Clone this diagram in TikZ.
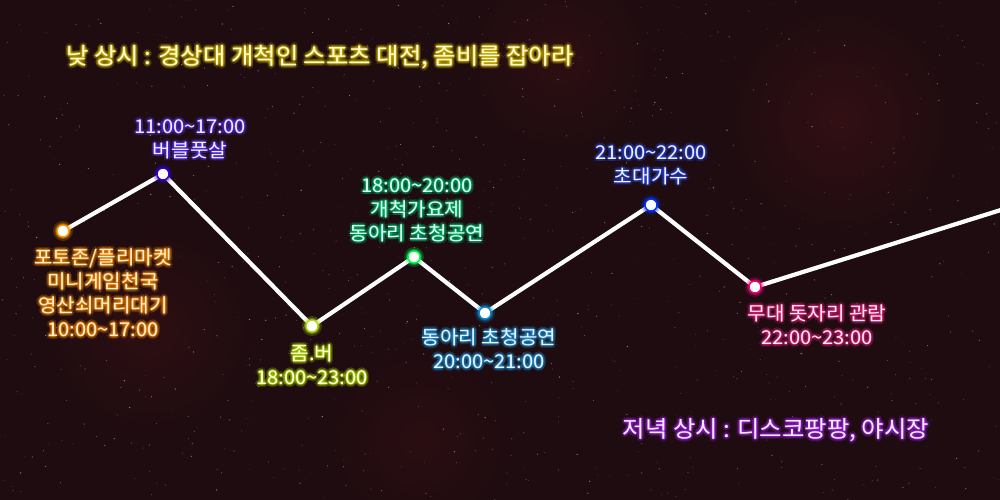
\documentclass[tikz,border=0pt]{standalone}
\usepackage{fontspec}
\newfontfamily\kr{Noto Sans CJK KR}[FakeStretch=1.06]
\usetikzlibrary{calc}
\definecolor{bg}{RGB}{30,12,16}
\tikzset{
  lbl/.style={align=center, inner sep=0pt, font=\kr\fontsize{19}{24}\selectfont},
  ttl/.style={align=center, inner sep=0pt, font=\kr\fontsize{23}{26}\selectfont},
  pathline/.style={draw=white, line width=4.2pt, line join=miter},
}
% #1 name, #2 style, #3 position, #4 glow, #5 text colour, #6 text
\newcommand\glowlabel[6]{%
  \foreach \a [count=\k] in {0,45,...,315}{%
    \node[#2, text=#4, text opacity=0.2] (#1-ga\k) at ($(#3)+(\a:2.8pt)$) {#6};
    \node[#2, text=#4, text opacity=0.3] (#1-gb\k) at ($(#3)+(\a:1.1pt)$) {#6};
  }
  \node[#2, text=#5] (#1) at (#3) {#6};
}
\newcommand\glowdot[3]{% name, position, colour
  \fill[#3, opacity=0.22] (#2) circle (10pt);
  \fill[#3, opacity=0.4] (#2) circle (8pt);
  \node[circle, fill=white, draw=#3, line width=1.4pt, minimum size=12pt, inner sep=0pt] (#1) at (#2) {};
}
\begin{document}
\begin{tikzpicture}[x=1pt,y=-1pt]
\useasboundingbox (0,0) rectangle (1000,500);
\begin{scope}
\clip (0,0) rectangle (1000,500);
\fill[bg] (0,0) rectangle (1000,500);
% faint nebula
\shade[inner color={rgb,255:red,50;green,15;blue,19}, outer color=bg] (840,120) circle (120);
\shade[inner color={rgb,255:red,45;green,14;blue,18}, outer color=bg] (150,330) circle (110);
\shade[inner color={rgb,255:red,45;green,14;blue,18}, outer color=bg] (560,60) circle (100);
\shade[inner color={rgb,255:red,42;green,13;blue,17}, outer color=bg] (420,440) circle (100);
% stars
\pgfmathsetseed{7}
\foreach \i in {1,...,900}{%
  \pgfmathsetmacro\sx{rnd*1000}%
  \pgfmathsetmacro\sy{rnd*500}%
  \pgfmathsetmacro\so{0.12+rnd*0.4}%
  \pgfmathsetmacro\sr{0.3+rnd*0.45}%
  \fill[white, opacity=\so] (\sx,\sy) circle (\sr pt);
}
% path
\coordinate (c1) at (63,231);
\coordinate (c2) at (163,174);
\coordinate (c3) at (312,326);
\coordinate (c4) at (414,257);
\coordinate (c5) at (485,313);
\coordinate (c6) at (651,205);
\coordinate (c7) at (755,287);
\coordinate (cend) at (1004,209);
\draw[pathline] (c1) -- (c2) -- (c3) -- (c4) -- (c5) -- (c6) -- (c7) -- (cend);
\end{scope}
\glowdot{p1}{c1}{orange!80!yellow}
\glowdot{p2}{c2}{blue!60!violet}
\glowdot{p3}{c3}{yellow!70!green}
\glowdot{p4}{c4}{green!70!cyan}
\glowdot{p5}{c5}{cyan!70!blue}
\glowdot{p6}{c6}{blue!80!cyan}
\glowdot{p7}{c7}{magenta!80!red}
% labels
\glowlabel{l2}{lbl}{190,139}{{rgb,255:red,90;green,50;blue,255}}{{rgb,255:red,242;green,238;blue,255}}{11:00\textasciitilde17:00\\버블풋살}
\glowlabel{l1}{lbl}{103,293}{{rgb,255:red,255;green,140;blue,0}}{{rgb,255:red,255;green,242;blue,212}}{포토존/플리마켓\\미니게임천국\\영산쇠머리대기\\10:00\textasciitilde17:00}
\glowlabel{l3}{lbl}{312,365}{{rgb,255:red,185;green,225;blue,0}}{{rgb,255:red,250;green,255;blue,222}}{좀.버\\18:00\textasciitilde23:00}
\glowlabel{l4}{lbl}{417,210}{{rgb,255:red,0;green,200;blue,120}}{{rgb,255:red,230;green,255;blue,242}}{18:00\textasciitilde20:00\\개척가요제\\동아리 초청공연}
\glowlabel{l5}{lbl}{489,349}{{rgb,255:red,30;green,150;blue,220}}{{rgb,255:red,230;green,246;blue,255}}{동아리 초청공연\\20:00\textasciitilde21:00}
\glowlabel{l6}{lbl}{651,165}{{rgb,255:red,40;green,70;blue,230}}{{rgb,255:red,238;green,242;blue,255}}{21:00\textasciitilde22:00\\초대가수}
\glowlabel{l7}{lbl}{817,325}{{rgb,255:red,225;green,30;blue,120}}{{rgb,255:red,255;green,235;blue,245}}{무대 돗자리 관람\\22:00\textasciitilde23:00}
\glowlabel{t1}{ttl}{320,57}{{rgb,255:red,215;green,190;blue,0}}{{rgb,255:red,255;green,250;blue,212}}{낮 상시 : 경상대 개척인 스포츠 대전, 좀비를 잡아라}
\glowlabel{t2}{ttl}{776,430}{{rgb,255:red,160;green,30;blue,230}}{{rgb,255:red,246;green,236;blue,255}}{저녁 상시 : 디스코팡팡, 야시장}
\end{tikzpicture}
\end{document}
